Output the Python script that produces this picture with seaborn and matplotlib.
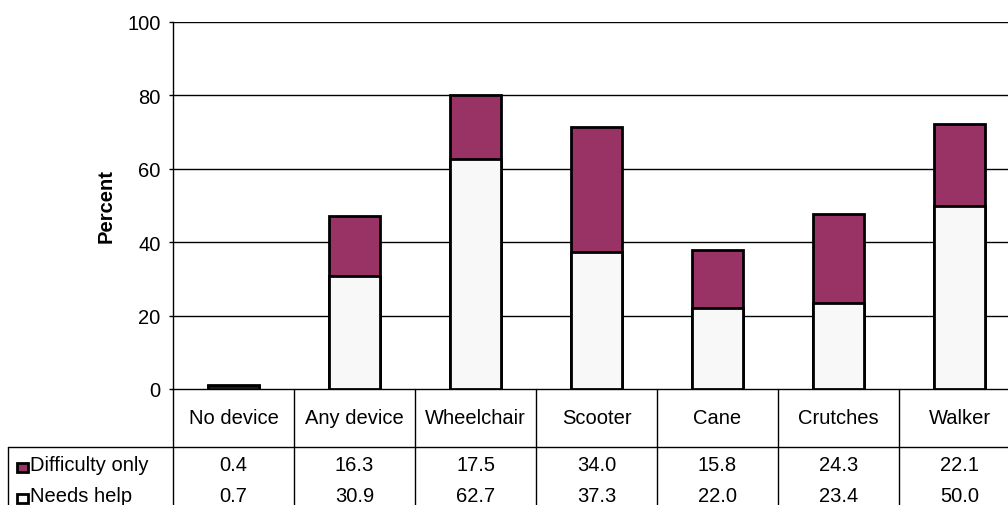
import matplotlib
matplotlib.use("Agg")
import matplotlib.pyplot as plt
import matplotlib.transforms as mtransforms
from matplotlib.lines import Line2D
from matplotlib.patches import Rectangle
import seaborn as sns
import pandas as pd

categories = ["No device", "Any device", "Wheelchair", "Scooter", "Cane", "Crutches", "Walker"]
difficulty_only = [0.4, 16.3, 17.5, 34.0, 15.8, 24.3, 22.1]
needs_help = [0.7, 30.9, 62.7, 37.3, 22.0, 23.4, 50.0]
series_names = ["Difficulty only", "Needs help"]
y_ticks = [0, 20, 40, 60, 80, 100]

MAROON = "#993366"
WHITE = "#F8F8F8"
FS = 14.5

sns.set_theme(style="white")
plt.rcParams["font.family"] = ["Liberation Sans", "DejaVu Sans"]

W, H = 1008, 506
fig = plt.figure(figsize=(W / 100, H / 100), dpi=100)
left_px, top_px, bottom_px, cat_w = 173, 23, 390, 121
ax = fig.add_axes([left_px / W, 1 - bottom_px / H, 7 * cat_w / W, (bottom_px - top_px) / H])

df = pd.DataFrame({"cat": categories,
                   "total": [d + n for d, n in zip(difficulty_only, needs_help)],
                   "needs": needs_help})

sns.barplot(data=df, x="cat", y="total", color=MAROON, saturation=1, width=0.42,
            edgecolor="black", linewidth=2, ax=ax, zorder=3)
sns.barplot(data=df, x="cat", y="needs", color=WHITE, saturation=1, width=0.42,
            edgecolor="black", linewidth=2, ax=ax, zorder=4)

ax.set_xlim(-0.5, 6.5)
ax.set_ylim(0, 100)
ax.set_yticks(y_ticks)
ax.set_yticklabels([str(t) for t in y_ticks], fontsize=FS, color="black")
ax.tick_params(axis="y", left=True, length=3, width=1, color="black", pad=6)
ax.set_xticks([])
ax.set_xlabel("")
ax.set_ylabel("Percent", fontsize=FS, fontweight="bold", color="black", labelpad=8)
for t in y_ticks[1:]:
    ax.axhline(t, color="black", linewidth=1, zorder=1)
for s in ["top", "right"]:
    ax.spines[s].set_visible(False)
ax.spines["left"].set_color("black")
ax.spines["left"].set_linewidth(1)
ax.spines["bottom"].set_color("black")
ax.spines["bottom"].set_linewidth(1)

# data table below the axes
tr = mtransforms.blended_transform_factory(ax.transData, fig.transFigure)
def fy(px):
    return 1 - px / H
def fx(px):
    return px / W

row_cat, row_sep, row1, row2 = 419, 448, 466, 497
for i in range(8):
    fig.add_artist(Line2D([i - 0.5, i - 0.5], [fy(bottom_px), fy(H + 5)], transform=tr,
                          color="black", linewidth=1))
fig.add_artist(Line2D([fx(8), fx(8)], [fy(row_sep), fy(H + 5)], transform=fig.transFigure,
                      color="black", linewidth=1))
fig.add_artist(Line2D([fx(8), 1.0], [fy(row_sep), fy(row_sep)], transform=fig.transFigure,
                      color="black", linewidth=1))

for i, c in enumerate(categories):
    fig.text(i, fy(row_cat), c, transform=tr, ha="center", va="center", fontsize=FS, color="black")
    fig.text(i, fy(row1), f"{difficulty_only[i]:.1f}", transform=tr, ha="center", va="center",
             fontsize=FS, color="black")
    fig.text(i, fy(row2), f"{needs_help[i]:.1f}", transform=tr, ha="center", va="center",
             fontsize=FS, color="black")

for name, col, yy in zip(series_names, [MAROON, WHITE], [row1, row2]):
    fig.add_artist(Rectangle((fx(17), fy(yy + 7)), 11 / W, 9 / H, transform=fig.transFigure,
                             facecolor=col, edgecolor="black", linewidth=2))
    fig.text(fx(30), fy(yy), name, ha="left", va="center", fontsize=FS, color="black")

fig.savefig("out.png", dpi=100)
